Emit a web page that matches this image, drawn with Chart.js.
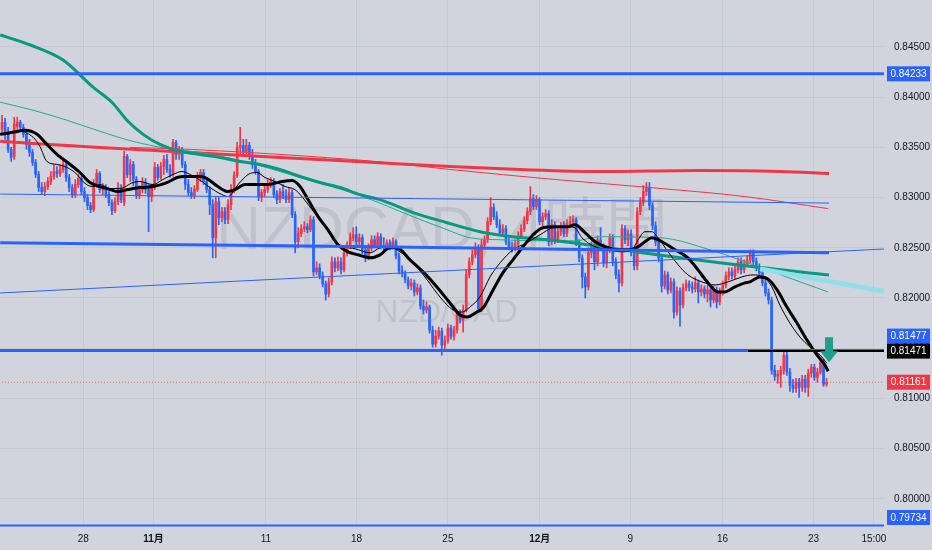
<!DOCTYPE html>
<html>
<head>
<meta charset="utf-8">
<script src="https://cdn.jsdelivr.net/npm/chart.js@4.4.1/dist/chart.umd.min.js"></script>
<style>
  html, body { margin: 0; padding: 0; background: #d1d4dc; }
  #wrap { width: 932px; height: 550px; }
</style>
</head>
<body>
<div id="wrap"><canvas id="chart" width="932" height="550"></canvas></div>
<script>
// NZDCAD 4h candles, one entry per bar (index 0 = first visible bar)
const opens = [
  0.8368,0.8375,0.8363,0.8348,0.8341,0.8371,0.8375,0.8370,0.8363,0.8353,
  0.8345,0.8335,0.8323,0.8310,0.8306,0.8311,0.8316,0.8321,0.8326,0.8324,
  0.8328,0.8333,0.8320,0.8310,0.8303,0.8313,0.8319,0.8306,0.8300,0.8292,
  0.8288,0.8314,0.8324,0.8308,0.8310,0.8303,0.8295,0.8287,0.8296,0.8310,
  0.8295,0.8341,0.8323,0.8333,0.8318,0.8302,0.8308,0.8315,0.8308,0.8301,
  0.8310,0.8330,0.8320,0.8331,0.8338,0.8328,0.8323,0.8355,0.8343,0.8348,
  0.8333,0.8313,0.8305,0.8302,0.8308,0.8320,0.8325,0.8316,0.8308,0.8293,
  0.8260,0.8296,0.8280,0.8286,0.8278,0.8293,0.8308,0.8322,0.8350,0.8352,
  0.8346,0.8352,0.8342,0.8333,0.8326,0.8301,0.8305,0.8308,0.8313,0.8316,
  0.8303,0.8298,0.8306,0.8302,0.8298,0.8305,0.8283,0.8256,0.8264,0.8269,
  0.8271,0.8268,0.8278,0.8226,0.8230,0.8222,0.8214,0.8204,0.8216,0.8236,
  0.8230,0.8236,0.8228,0.8245,0.8252,0.8260,0.8263,0.8256,0.8260,0.8248,
  0.8241,0.8250,0.8258,0.8253,0.8261,0.8252,0.8250,0.8255,0.8251,0.8256,
  0.8242,0.8227,0.8224,0.8218,0.8212,0.8215,0.8206,0.8210,0.8192,0.8188,
  0.8191,0.8168,0.8154,0.8162,0.8167,0.8153,0.8158,0.8170,0.8162,0.8168,
  0.8185,0.8178,0.8188,0.8223,0.8236,0.8243,0.8250,0.8189,0.8253,0.8258,
  0.8276,0.8290,0.8281,0.8273,0.8265,0.8269,0.8256,0.8251,0.8249,0.8254,
  0.8262,0.8269,0.8277,0.8286,0.8299,0.8291,0.8298,0.8276,0.8281,0.8284,
  0.8256,0.8273,0.8258,0.8266,0.8272,0.8264,0.8274,0.8276,0.8278,0.8255,
  0.8240,0.8221,0.8211,0.8245,0.8253,0.8236,0.8258,0.8251,0.8235,0.8248,
  0.8260,0.8236,0.8223,0.8215,0.8269,0.8258,0.8264,0.8246,0.8232,0.8286,
  0.8295,0.8306,0.8310,0.8292,0.8272,0.8256,0.8240,0.8212,0.8223,0.8208,
  0.8216,0.8186,0.8207,0.8193,0.8210,0.8214,0.8211,0.8209,0.8215,0.8206,
  0.8209,0.8204,0.8208,0.8198,0.8208,0.8196,0.8206,0.8213,0.8222,0.8226,
  0.8222,0.8228,0.8236,0.8228,0.8234,0.8238,0.8246,0.8236,0.8230,0.8225,
  0.8215,0.8205,0.8198,0.8128,0.8122,0.8124,0.8128,0.8143,0.8126,0.8113,
  0.8110,0.8116,0.8111,0.8119,0.8111,0.8125,0.8131,0.8121,0.8126,0.8136,
  0.8114
];
const highs = [
  0.8382,0.8379,0.8370,0.8350,0.8380,0.8380,0.8377,0.8373,0.8368,0.8358,
  0.8348,0.8338,0.8326,0.8315,0.8315,0.8320,0.8326,0.8333,0.8331,0.8333,
  0.8338,0.8336,0.8323,0.8313,0.8318,0.8323,0.8321,0.8310,0.8303,0.8295,
  0.8318,0.8328,0.8326,0.8314,0.8313,0.8306,0.8298,0.8300,0.8315,0.8313,
  0.8346,0.8343,0.8338,0.8336,0.8321,0.8312,0.8320,0.8319,0.8313,0.8313,
  0.8335,0.8333,0.8335,0.8342,0.8343,0.8333,0.8358,0.8357,0.8351,0.8350,
  0.8336,0.8318,0.8310,0.8312,0.8325,0.8328,0.8328,0.8320,0.8311,0.8298,
  0.8301,0.8300,0.8290,0.8290,0.8298,0.8313,0.8326,0.8355,0.8370,0.8358,
  0.8358,0.8355,0.8348,0.8338,0.8328,0.8308,0.8312,0.8318,0.8320,0.8319,
  0.8307,0.8309,0.8313,0.8308,0.8310,0.8308,0.8286,0.8270,0.8273,0.8276,
  0.8274,0.8282,0.8281,0.8236,0.8234,0.8226,0.8217,0.8220,0.8241,0.8240,
  0.8241,0.8240,0.8250,0.8256,0.8265,0.8270,0.8271,0.8264,0.8263,0.8252,
  0.8254,0.8262,0.8262,0.8265,0.8264,0.8260,0.8258,0.8258,0.8260,0.8258,
  0.8245,0.8232,0.8227,0.8221,0.8219,0.8218,0.8214,0.8213,0.8198,0.8196,
  0.8193,0.8172,0.8168,0.8171,0.8170,0.8162,0.8174,0.8173,0.8172,0.8188,
  0.8188,0.8193,0.8228,0.8240,0.8248,0.8255,0.8253,0.8258,0.8262,0.8280,
  0.8300,0.8294,0.8286,0.8278,0.8273,0.8272,0.8260,0.8256,0.8258,0.8266,
  0.8273,0.8281,0.8290,0.8311,0.8303,0.8302,0.8300,0.8285,0.8288,0.8287,
  0.8278,0.8276,0.8271,0.8275,0.8276,0.8278,0.8281,0.8282,0.8280,0.8258,
  0.8243,0.8225,0.8250,0.8256,0.8258,0.8262,0.8270,0.8254,0.8252,0.8264,
  0.8263,0.8240,0.8228,0.8273,0.8272,0.8268,0.8268,0.8250,0.8290,0.8300,
  0.8312,0.8315,0.8315,0.8295,0.8276,0.8260,0.8243,0.8227,0.8226,0.8220,
  0.8219,0.8211,0.8210,0.8214,0.8218,0.8217,0.8216,0.8221,0.8218,0.8213,
  0.8212,0.8213,0.8211,0.8212,0.8211,0.8210,0.8217,0.8226,0.8230,0.8230,
  0.8232,0.8240,0.8240,0.8238,0.8242,0.8248,0.8248,0.8240,0.8234,0.8228,
  0.8219,0.8209,0.8201,0.8133,0.8128,0.8132,0.8146,0.8146,0.8130,0.8119,
  0.8120,0.8120,0.8123,0.8123,0.8129,0.8134,0.8134,0.8130,0.8140,0.8139,
  0.8120
];
const lows = [
  0.8365,0.8358,0.8345,0.8336,0.8338,0.8368,0.8367,0.8360,0.8348,0.8341,
  0.8332,0.8320,0.8306,0.8303,0.8302,0.8308,0.8313,0.8318,0.8320,0.8321,
  0.8325,0.8316,0.8306,0.8300,0.8300,0.8310,0.8303,0.8296,0.8288,0.8285,
  0.8286,0.8310,0.8305,0.8303,0.8300,0.8292,0.8283,0.8285,0.8293,0.8295,
  0.8292,0.8320,0.8316,0.8312,0.8299,0.8299,0.8305,0.8304,0.8266,0.8296,
  0.8308,0.8317,0.8318,0.8323,0.8325,0.8320,0.8321,0.8338,0.8338,0.8330,
  0.8308,0.8302,0.8299,0.8299,0.8306,0.8316,0.8313,0.8305,0.8283,0.8240,
  0.8240,0.8273,0.8276,0.8274,0.8274,0.8288,0.8305,0.8320,0.8343,0.8342,
  0.8343,0.8338,0.8329,0.8323,0.8297,0.8296,0.8301,0.8305,0.8310,0.8300,
  0.8294,0.8295,0.8299,0.8295,0.8295,0.8280,0.8245,0.8250,0.8261,0.8266,
  0.8265,0.8266,0.8222,0.8223,0.8219,0.8211,0.8198,0.8201,0.8213,0.8226,
  0.8227,0.8224,0.8226,0.8242,0.8249,0.8257,0.8253,0.8252,0.8244,0.8236,
  0.8238,0.8247,0.8250,0.8251,0.8249,0.8247,0.8248,0.8248,0.8249,0.8239,
  0.8224,0.8221,0.8215,0.8209,0.8208,0.8202,0.8203,0.8189,0.8184,0.8185,
  0.8165,0.8151,0.8151,0.8159,0.8143,0.8149,0.8155,0.8159,0.8158,0.8165,
  0.8175,0.8166,0.8186,0.8220,0.8233,0.8240,0.8186,0.8186,0.8250,0.8255,
  0.8273,0.8278,0.8270,0.8262,0.8262,0.8253,0.8248,0.8246,0.8247,0.8251,
  0.8259,0.8266,0.8274,0.8283,0.8288,0.8288,0.8273,0.8272,0.8278,0.8252,
  0.8253,0.8254,0.8255,0.8262,0.8261,0.8261,0.8270,0.8273,0.8252,0.8236,
  0.8210,0.8200,0.8208,0.8240,0.8228,0.8232,0.8248,0.8231,0.8230,0.8245,
  0.8232,0.8219,0.8206,0.8212,0.8254,0.8252,0.8242,0.8228,0.8228,0.8283,
  0.8292,0.8302,0.8288,0.8268,0.8252,0.8236,0.8206,0.8209,0.8204,0.8205,
  0.8180,0.8183,0.8172,0.8190,0.8207,0.8207,0.8205,0.8206,0.8195,0.8202,
  0.8200,0.8196,0.8191,0.8195,0.8190,0.8193,0.8203,0.8210,0.8218,0.8219,
  0.8219,0.8225,0.8224,0.8225,0.8231,0.8235,0.8232,0.8227,0.8222,0.8212,
  0.8202,0.8194,0.8124,0.8118,0.8115,0.8111,0.8124,0.8123,0.8107,0.8106,
  0.8106,0.8101,0.8107,0.8106,0.8102,0.8121,0.8118,0.8116,0.8124,0.8112,
  0.8112
];
const closes = [
  0.8375,0.8363,0.8348,0.8340,0.8373,0.8375,0.8370,0.8363,0.8353,0.8345,
  0.8335,0.8323,0.8310,0.8306,0.8311,0.8316,0.8321,0.8326,0.8324,0.8328,
  0.8333,0.8320,0.8310,0.8303,0.8313,0.8319,0.8306,0.8300,0.8292,0.8288,
  0.8314,0.8324,0.8308,0.8310,0.8303,0.8295,0.8287,0.8296,0.8310,0.8298,
  0.8341,0.8323,0.8333,0.8318,0.8302,0.8308,0.8315,0.8308,0.8301,0.8310,
  0.8330,0.8320,0.8331,0.8338,0.8328,0.8323,0.8355,0.8343,0.8348,0.8333,
  0.8313,0.8305,0.8302,0.8308,0.8320,0.8325,0.8316,0.8308,0.8293,0.8260,
  0.8296,0.8280,0.8286,0.8278,0.8293,0.8308,0.8322,0.8350,0.8352,0.8346,
  0.8352,0.8342,0.8333,0.8326,0.8301,0.8305,0.8308,0.8313,0.8316,0.8303,
  0.8298,0.8306,0.8302,0.8298,0.8305,0.8283,0.8256,0.8264,0.8269,0.8271,
  0.8268,0.8278,0.8226,0.8230,0.8222,0.8214,0.8204,0.8216,0.8236,0.8230,
  0.8236,0.8228,0.8245,0.8252,0.8260,0.8263,0.8256,0.8260,0.8248,0.8241,
  0.8250,0.8258,0.8253,0.8261,0.8252,0.8250,0.8255,0.8251,0.8256,0.8242,
  0.8227,0.8224,0.8218,0.8212,0.8215,0.8206,0.8210,0.8192,0.8188,0.8191,
  0.8168,0.8154,0.8162,0.8167,0.8153,0.8158,0.8170,0.8162,0.8168,0.8185,
  0.8178,0.8188,0.8223,0.8236,0.8243,0.8250,0.8189,0.8253,0.8258,0.8276,
  0.8290,0.8281,0.8273,0.8265,0.8269,0.8256,0.8251,0.8249,0.8254,0.8262,
  0.8269,0.8277,0.8286,0.8299,0.8291,0.8298,0.8276,0.8281,0.8284,0.8256,
  0.8273,0.8258,0.8266,0.8272,0.8264,0.8274,0.8276,0.8278,0.8255,0.8240,
  0.8221,0.8211,0.8245,0.8253,0.8236,0.8258,0.8251,0.8235,0.8248,0.8260,
  0.8236,0.8223,0.8215,0.8269,0.8258,0.8264,0.8246,0.8232,0.8286,0.8295,
  0.8306,0.8310,0.8292,0.8272,0.8256,0.8240,0.8212,0.8223,0.8208,0.8216,
  0.8186,0.8207,0.8193,0.8210,0.8214,0.8211,0.8209,0.8215,0.8206,0.8209,
  0.8204,0.8208,0.8198,0.8208,0.8196,0.8206,0.8213,0.8222,0.8226,0.8222,
  0.8228,0.8236,0.8228,0.8234,0.8238,0.8246,0.8236,0.8230,0.8225,0.8215,
  0.8205,0.8198,0.8128,0.8122,0.8124,0.8128,0.8143,0.8126,0.8113,0.8110,
  0.8116,0.8111,0.8119,0.8111,0.8125,0.8131,0.8121,0.8126,0.8136,0.8114,
  0.8116
];

// moving averages: [bar index, price]
const maFastThin = [
  [-0.6,0.8363],[5.9,0.8366],[10.2,0.8360],[12.4,0.8351],[14.7,0.8336],[18,0.8333],[21.3,0.8330],
  [24.6,0.8323],[26.5,0.8316],[29.5,0.8311],[32.1,0.8313],[35.4,0.8309],[38.6,0.8309],[42.9,0.8315],
  [45.2,0.8316],[49.4,0.8313],[52.7,0.8318],[56,0.8323],[58.9,0.8326],[61.6,0.8323],[65.5,0.8316],
  [68.1,0.8310],[72,0.8303],[74,0.8301],[77.3,0.8313],[80.6,0.8323],[83.5,0.8325],[86.1,0.8320],
  [89.4,0.8316],[92.7,0.8311],[95.9,0.8308],[98.2,0.8301],[101.5,0.8288],[105.8,0.8271],[109,0.8256],
  [112.3,0.8251],[115.6,0.8249],[120.5,0.8245],[123.8,0.8250],[127,0.8251],[130.3,0.8246],[134.6,0.8235],
  [139.2,0.8218],[143.4,0.8201],[147.7,0.8188],[150.6,0.8186],[153.2,0.8191],[156.5,0.8201],[159.8,0.8221],
  [163.1,0.8235],[167.3,0.8248],[171.9,0.8255],[176.2,0.8263],[180.4,0.8270],[185,0.8271],[187.6,0.8270],
  [189.9,0.8260],[194.2,0.8251],[198.4,0.8248],[203,0.8246],[206.3,0.8248],[208.3,0.8258],[210.5,0.8266],
  [212.8,0.8266],[214.8,0.8260],[218.1,0.8246],[221.4,0.8233],[224.6,0.8223],[229.2,0.8216],[233.5,0.8213],
  [237.7,0.8216],[242.3,0.8221],[245.9,0.8223],[249.2,0.8221],[252.1,0.8211],[254.7,0.8193],[258,0.8175],
  [261.3,0.8161],[264.6,0.8151],[267.9,0.8143],[270.1,0.8135]
];
const maSlowThick = [
  [-0.6,0.8363],[3.6,0.8365],[7.5,0.8367],[11.5,0.8363],[14.1,0.8355],[18,0.8343],[22.3,0.8333],
  [25.5,0.8325],[28.8,0.8315],[32.1,0.8311],[35.4,0.8308],[38,0.8306],[41.3,0.8308],[45.2,0.8310],
  [49.4,0.8311],[54,0.8315],[57.3,0.8320],[59.9,0.8321],[64.2,0.8321],[66.5,0.8320],[70.7,0.8311],
  [74,0.8306],[76.3,0.8308],[79.6,0.8313],[83.5,0.8313],[87.1,0.8313],[91.7,0.8316],[95,0.8317],
  [97.6,0.8311],[100.2,0.8298],[103.5,0.8281],[106.7,0.8268],[110,0.8253],[113.3,0.8246],[116.6,0.8243],
  [120.5,0.8240],[123.8,0.8243],[127,0.8250],[129.3,0.8250],[133.6,0.8238],[137.9,0.8226],[142.4,0.8211],
  [146.7,0.8195],[150,0.8183],[152.3,0.8181],[155.5,0.8186],[157.5,0.8190],[160.8,0.8208],[164,0.8225],
  [167.3,0.8238],[170.6,0.8251],[173.9,0.8263],[177.1,0.8270],[181.7,0.8271],[185.3,0.8271],[187.6,0.8273],
  [190.9,0.8265],[194.2,0.8256],[198.4,0.8250],[201.7,0.8248],[205,0.8248],[208.3,0.8251],[210.5,0.8256],
  [212.8,0.8260],[216.1,0.8256],[220.4,0.8248],[224.6,0.8240],[227.9,0.8228],[231.2,0.8215],[234.4,0.8206],
  [236.7,0.8206],[240,0.8211],[243.3,0.8215],[244.9,0.8216],[248.2,0.8221],[250.8,0.8219],[253.8,0.8208],
  [257,0.8191],[260.3,0.8175],[263.6,0.8158],[266.9,0.8143],[269.5,0.8133],[270.5,0.8127]
];
const maGreenThick = [
  [-0.6,0.8462],[9.2,0.8452],[20,0.8437],[29.8,0.8410],[36.3,0.8394],[40.9,0.8377],[46.2,0.8363],
  [51.7,0.8353],[58.3,0.8346],[64.8,0.8343],[71.4,0.8340],[77.9,0.8336],[84.5,0.8333],[91,0.8328],
  [97.6,0.8321],[104.1,0.8315],[110.7,0.8310],[117.2,0.8303],[123.8,0.8298],[134.6,0.8285],[145.7,0.8275],
  [156.5,0.8266],[167.3,0.8261],[178.5,0.8258],[189.3,0.8254],[212.2,0.8244],[243.3,0.8232],[270.8,0.8223]
];
const maGreenThin = [
  [-0.6,0.8395],[10.2,0.8387],[21.3,0.8377],[32.1,0.8366],[42.9,0.8356],[54,0.8349],[64.8,0.8345],
  [77.9,0.8337],[97.6,0.8320],[117.2,0.8302],[134.6,0.8281],[145.7,0.8268],[153.2,0.8260],[163.1,0.8258],
  [176.2,0.8257],[187.6,0.8257],[195.8,0.8261],[215.5,0.8260],[231.8,0.8248],[250.5,0.8228],[270.5,0.8206]
];
const maRedThick = [
  [-0.6,0.8356],[32.1,0.8350],[61.6,0.8345],[91,0.8340],[122.1,0.8335],[146.7,0.8331],[169.6,0.8328],
  [195.8,0.8326],[228.6,0.8327],[254.7,0.8326],[270.8,0.8324]
];
const maRedThin = [
  [41.9,0.8350],[61.6,0.8348],[91,0.8343],[122.1,0.8336],[146.7,0.8328],[181.1,0.8318],[212.2,0.8310],
  [243.3,0.8301],[270.5,0.8289]
];

// drawn trend / level lines: [bar index, price]
const levelTop = [[-1,0.84233],[290,0.84233]];
const levelSupport = [[-1,0.81477],[290,0.81477]];
const levelBlack = [[244.3,0.81471],[290,0.81471]];
const levelBottom = [[-1,0.79734],[290,0.79734]];
const bandThick = [[-0.6,0.8255],[122.1,0.8251],[270.8,0.8245]];
const channelUpper = [[-0.6,0.83035],[270.8,0.82945]];
const channelRising = [[-0.6,0.8205],[290.1,0.8249]];
const cyanLine = [[248.2,0.8229],[290.1,0.8206]];
const lastPrice = 0.81161;

// price axis tags
const tagPrices = [0.84233, 0.81477, 0.81471, 0.81161, 0.79734];
const tagColors = ['#2962ff', '#2962ff', '#000000', '#f23645', '#2962ff'];

// arrow marker
const arrowIdx = 270.8, arrowTop = 0.8161, arrowTip = 0.8136;

// axes
const xTickPos = [26.6, 49.6, 86.4, 116.1, 146.0, 176.1, 205.7, 235.9, 265.7, 285.5];
const xTickLabels = ['28', '11月', '11', '18', '25', '12月', '9', '16', '23', '15:00'];
const yTickValues = [0.800, 0.805, 0.810, 0.815, 0.820, 0.825, 0.830, 0.835, 0.840, 0.845];
const xMin = -0.655, xMax = 288.8;
const yMin = 0.79719, yMax = 0.84968;

const watermarkTitle = 'NZDCAD, 4時間';
const watermarkSub = 'NZD/CAD';

const upColor = '#f23645';
const downColor = '#2962ff';
const gridColor = 'rgba(42, 46, 57, 0.06)';

const candleColors = closes.map((c, i) => (c >= opens[i] ? upColor : downColor));

function lineSet(points, color, width, order, smooth, dash) {
  return {
    type: 'line',
    data: points.map(p => ({ x: p[0], y: p[1] })),
    borderColor: color,
    borderWidth: width,
    borderDash: dash || [],
    pointRadius: 0,
    fill: false,
    tension: smooth ? 0.4 : 0,
    cubicInterpolationMode: smooth ? 'monotone' : 'default',
    order: order,
    clip: 0
  };
}

const background = {
  id: 'background',
  beforeDraw(chart) {
    const ctx = chart.ctx;
    ctx.save();
    ctx.fillStyle = '#d1d4dc';
    ctx.fillRect(0, 0, chart.width, chart.height);
    ctx.restore();
  }
};

const watermark = {
  id: 'watermark',
  beforeDatasetsDraw(chart) {
    const { ctx, chartArea: a } = chart;
    ctx.save();
    ctx.fillStyle = 'rgba(120, 123, 134, 0.2)';
    ctx.textAlign = 'center';
    ctx.textBaseline = 'middle';
    ctx.font = '62px "Liberation Sans", "Noto Sans CJK JP", sans-serif';
    ctx.fillText(watermarkTitle, a.left + a.width * 0.5, a.top + a.height * 0.44);
    ctx.font = '32px "Liberation Sans", sans-serif';
    ctx.fillText(watermarkSub, a.left + a.width * 0.505, a.top + a.height * 0.595);
    ctx.restore();
  }
};

const arrowMark = {
  id: 'arrowMark',
  afterDatasetsDraw(chart) {
    const { ctx, scales: { x, y } } = chart;
    const px = x.getPixelForValue(arrowIdx);
    const top = y.getPixelForValue(arrowTop);
    const tip = y.getPixelForValue(arrowTip);
    const neck = tip - 11;
    ctx.save();
    ctx.fillStyle = '#1f9e8a';
    ctx.beginPath();
    ctx.moveTo(px - 4, top);
    ctx.lineTo(px + 4, top);
    ctx.lineTo(px + 4, neck);
    ctx.lineTo(px + 9, neck);
    ctx.lineTo(px, tip);
    ctx.lineTo(px - 9, neck);
    ctx.lineTo(px - 4, neck);
    ctx.closePath();
    ctx.fill();
    ctx.restore();
  }
};

const priceTags = {
  id: 'priceTags',
  afterDraw(chart) {
    const { ctx, chartArea: a, scales: { y } } = chart;
    const h = 15;
    const tags = tagPrices.map((p, i) => ({ p, color: tagColors[i], y: y.getPixelForValue(p) }));
    tags.forEach(t => { t.y = Math.min(Math.max(t.y, a.top + h / 2), a.bottom - h / 2 - 2); });
    tags.sort((m, n) => m.y - n.y);
    for (let i = tags.length - 2; i >= 0; i--) {
      if (tags[i].y > tags[i + 1].y - h) tags[i].y = tags[i + 1].y - h;
    }
    ctx.save();
    ctx.font = '10px "Liberation Sans Narrow", "Liberation Sans", sans-serif';
    ctx.textAlign = 'center';
    ctx.textBaseline = 'middle';
    tags.forEach(t => {
      const left = y.left + 3;
      const w = chart.width - left - 2;
      ctx.fillStyle = t.color;
      ctx.fillRect(left, t.y - h / 2, w, h);
      ctx.fillStyle = '#ffffff';
      ctx.fillText(t.p.toFixed(5), left + w / 2, t.y + 0.5);
    });
    ctx.restore();
  }
};

new Chart(document.getElementById('chart'), {
  type: 'bar',
  data: {
    datasets: [
      {
        label: 'wicks',
        data: highs.map((hi, i) => ({ x: i, y: [lows[i], hi] })),
        backgroundColor: candleColors,
        barThickness: 1,
        grouped: false,
        order: 20
      },
      {
        label: 'bodies',
        data: opens.map((o, i) => ({ x: i, y: [o, closes[i]] })),
        backgroundColor: candleColors,
        barThickness: 2,
        minBarLength: 1,
        grouped: false,
        order: 19
      },
      lineSet([[-1, lastPrice], [290, lastPrice]], 'rgba(242, 54, 69, 0.7)', 1, 21, false, [1, 2]),
      lineSet(maRedThin, '#f23645', 1, 12, true),
      lineSet(maRedThick, '#f23645', 3, 11, true),
      lineSet(maGreenThin, '#22ab94', 1, 10, true),
      lineSet(maGreenThick, '#089981', 3, 9, true),
      lineSet(maFastThin, '#000000', 1, 8, true),
      lineSet(maSlowThick, '#000000', 3, 7, true),
      lineSet(cyanLine, '#90dfea', 5, 6, false),
      lineSet(channelUpper, '#2962ff', 1, 5, false),
      lineSet(channelRising, '#2962ff', 1, 5, false),
      lineSet(bandThick, '#2962ff', 3, 4, false),
      lineSet(levelTop, '#2962ff', 3, 3, false),
      lineSet(levelBottom, '#2962ff', 2, 3, false),
      lineSet(levelSupport, '#2962ff', 3, 2, false),
      lineSet(levelBlack, '#000000', 2, 1, false)
    ]
  },
  options: {
    responsive: false,
    animation: false,
    devicePixelRatio: 1,
    layout: { padding: 0 },
    plugins: {
      legend: { display: false },
      tooltip: { enabled: false }
    },
    scales: {
      x: {
        type: 'linear',
        min: xMin,
        max: xMax,
        offset: false,
        grid: { color: gridColor, drawTicks: false, offset: false },
        border: { display: false },
        afterBuildTicks: s => { s.ticks = xTickPos.map(v => ({ value: v })); },
        afterFit: s => { s.height = 23; s.paddingLeft = 0; s.paddingRight = 0; },
        ticks: {
          autoSkip: false,
          maxRotation: 0,
          padding: 6,
          color: '#131722',
          font: ctx => ({
            size: 10,
            family: '"Liberation Sans", "Noto Sans CJK JP", sans-serif',
            weight: (xTickLabels[ctx.index] || '').includes('月') ? 'bold' : 'normal'
          }),
          callback: (v, i) => xTickLabels[i]
        }
      },
      y: {
        position: 'right',
        min: yMin,
        max: yMax,
        grid: { color: gridColor, drawTicks: false },
        border: { display: false },
        afterBuildTicks: s => { s.ticks = yTickValues.map(v => ({ value: v })); },
        afterFit: s => { s.width = 48; s.paddingTop = 0; s.paddingBottom = 0; },
        ticks: {
          padding: 10,
          color: '#131722',
          font: { size: 10, family: '"Liberation Sans Narrow", "Liberation Sans", sans-serif' },
          callback: v => v.toFixed(5)
        }
      }
    }
  },
  plugins: [background, watermark, arrowMark, priceTags]
});
</script>
</body>
</html>
